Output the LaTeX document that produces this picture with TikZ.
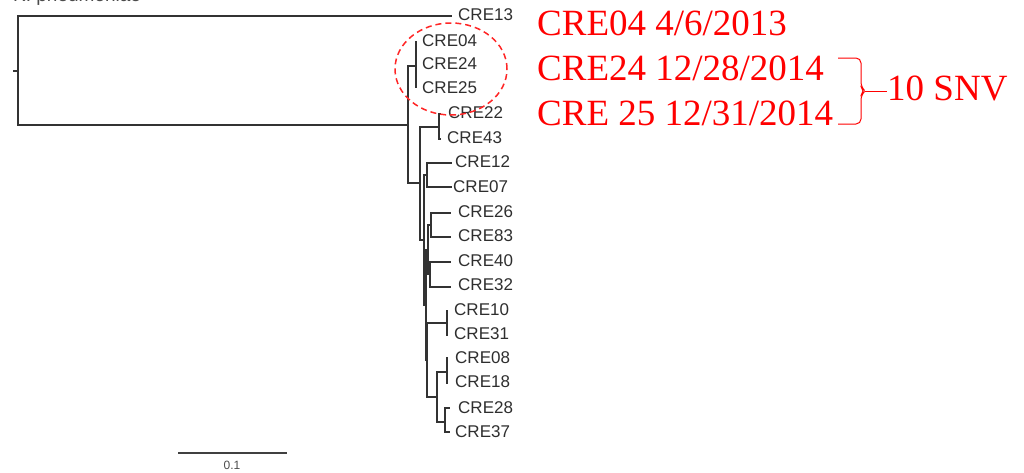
\documentclass[tikz,border=0pt]{standalone}
\usepackage{fontspec}
\setmainfont{Liberation Sans}
\newfontfamily\redserif{Liberation Serif}
\begin{document}
\begin{tikzpicture}[x=1pt,y=-1pt,
  branch/.style={draw=black!80, line width=1.5pt},
  leaflabel/.style={anchor=west, inner sep=0pt, text=black!82, font=\fontsize{17}{17}\selectfont},
  redlabel/.style={anchor=base west, inner sep=0pt, text=red, font=\redserif\fontsize{37}{37}\selectfont},
  bracketline/.style={draw=red, line width=1pt}]
\useasboundingbox (0,0) rectangle (1024,472);
\begin{scope}
\clip (0,0) rectangle (1024,472);
\node[anchor=base west, inner sep=0pt, text=black!70, font=\fontsize{19}{19}\selectfont] (title) at (13,1.5) {K. pneumoniae};
\end{scope}

% internal nodes
\coordinate (root) at (18,71);
\coordinate (n1) at (408,125);
\coordinate (cA) at (416,66);
\coordinate (n2) at (420,183);
\coordinate (c2243) at (439,127);
\coordinate (n3) at (424,240);
\coordinate (c1207) at (427,175);
\coordinate (n4) at (426,305);
\coordinate (c5) at (428,250);
\coordinate (c2683) at (431,225);
\coordinate (c4032) at (430,274);
\coordinate (n5) at (427,360);
\coordinate (c1031) at (447,323);
\coordinate (n6) at (437,397);
\coordinate (c0818) at (447,372);
\coordinate (c2837) at (445,422);
\coordinate (rtick) at (13,71);

% leaf tips
\coordinate (t13) at (452,16);
\coordinate (t04) at (416,41);
\coordinate (t24) at (416,64);
\coordinate (t25) at (416,88);
\coordinate (t22) at (441,114);
\coordinate (t43) at (441,139);
\coordinate (t12) at (452,163);
\coordinate (t07) at (452,187);
\coordinate (t26) at (451,213);
\coordinate (t83) at (451,237);
\coordinate (t40) at (451,262);
\coordinate (t32) at (451,287);
\coordinate (t10) at (448,311);
\coordinate (t31) at (448,335);
\coordinate (t08) at (448,358);
\coordinate (t18) at (448,383);
\coordinate (t28) at (450,408);
\coordinate (t37) at (450,432);

% labels
\node[leaflabel] (l13) at (458,15) {CRE13};
\node[leaflabel] (l04) at (422,41) {CRE04};
\node[leaflabel] (l24) at (422,64) {CRE24};
\node[leaflabel] (l25) at (422,88) {CRE25};
\node[leaflabel] (l22) at (448,113) {CRE22};
\node[leaflabel] (l43) at (447,138) {CRE43};
\node[leaflabel] (l12) at (455,162) {CRE12};
\node[leaflabel] (l07) at (453,187) {CRE07};
\node[leaflabel] (l26) at (458,212) {CRE26};
\node[leaflabel] (l83) at (458,236) {CRE83};
\node[leaflabel] (l40) at (458,261) {CRE40};
\node[leaflabel] (l32) at (458,285) {CRE32};
\node[leaflabel] (l10) at (454,310) {CRE10};
\node[leaflabel] (l31) at (454,334) {CRE31};
\node[leaflabel] (l08) at (455,358) {CRE08};
\node[leaflabel] (l18) at (455,382) {CRE18};
\node[leaflabel] (l28) at (458,408) {CRE28};
\node[leaflabel] (l37) at (455,432) {CRE37};

% tree branches
\draw[branch] (rtick) -- (root);
\draw[branch] (root) |- (t13);
\draw[branch] (root) |- (n1);
\draw[branch] (n1) |- (cA);
\draw[branch] (n1) |- (n2);
\draw[branch] (cA) |- (t04);
\draw[branch] (cA) |- (t24);
\draw[branch] (cA) |- (t25);
\draw[branch] (n2) |- (c2243);
\draw[branch] (n2) |- (n3);
\draw[branch] (c2243) |- (t22);
\draw[branch] (c2243) |- (t43);
\draw[branch] (n3) |- (c1207);
\draw[branch] (n3) |- (n4);
\draw[branch] (c1207) |- (t12);
\draw[branch] (c1207) |- (t07);
\draw[branch] (n4) |- (c5);
\draw[branch] (n4) |- (n5);
\draw[branch] (c5) |- (c2683);
\draw[branch] (c5) |- (c4032);
\draw[branch] (c2683) |- (t26);
\draw[branch] (c2683) |- (t83);
\draw[branch] (c4032) |- (t40);
\draw[branch] (c4032) |- (t32);
\draw[branch] (n5) |- (c1031);
\draw[branch] (n5) |- (n6);
\draw[branch] (c1031) |- (t10);
\draw[branch] (c1031) |- (t31);
\draw[branch] (n6) |- (c0818);
\draw[branch] (n6) |- (c2837);
\draw[branch] (c0818) |- (t08);
\draw[branch] (c0818) |- (t18);
\draw[branch] (c2837) |- (t28);
\draw[branch] (c2837) |- (t37);

% dashed highlight
\draw[draw=red!85!white, line width=1.5pt, dash pattern=on 6pt off 4pt] (451,69) ellipse [x radius=56pt, y radius=46pt];

% red annotations
\node[redlabel] (r04) at (537,35) {CRE04 4/6/2013};
\node[redlabel] (r24) at (537,80) {CRE24 12/28/2014};
\node[redlabel] (r25) at (537,125) {CRE 25 12/31/2014};
\node[redlabel] (snv) at (887,100) {10 SNV};
\coordinate (btop) at (838,58);
\coordinate (bbot) at (838,124);
\coordinate (bmid) at (865,91);
\draw[bracketline, rounded corners=5pt] (btop) -- (861,58) -- (861,87) -- (bmid) -- (861,95) -- (861,124) -- (bbot);
\draw[bracketline] (bmid) -- (snv.west |- bmid);

% scale bar
\coordinate (sb1) at (178,453);
\coordinate (sb2) at (287,453);
\draw[draw=black!75, line width=1.6pt] (sb1) -- (sb2);
\node[inner sep=0pt, text=black!70, font=\fontsize{12}{12}\selectfont] (sbl) at (232,465) {0.1};
\end{tikzpicture}
\end{document}
